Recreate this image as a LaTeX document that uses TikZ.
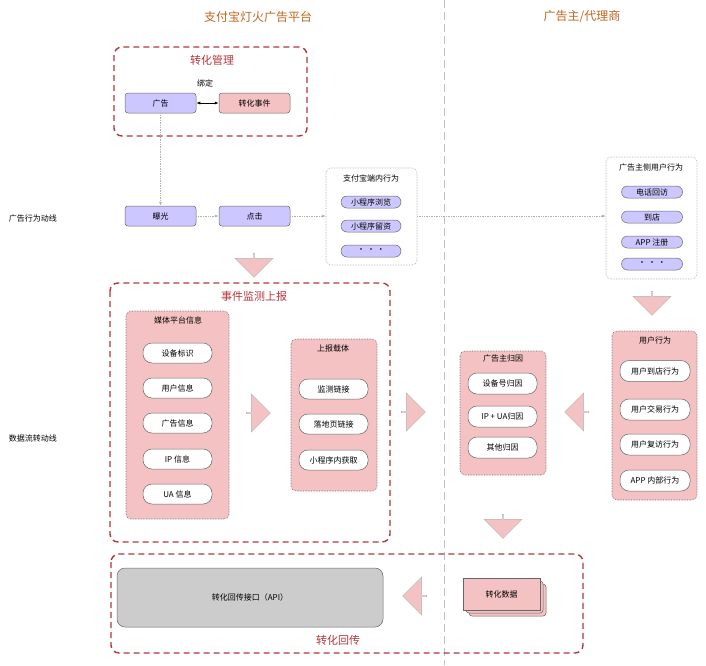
\documentclass[tikz,border=0pt]{standalone}
\usepackage{fontspec}
\setmainfont{Noto Sans CJK SC}
\usetikzlibrary{shapes.arrows,arrows.meta}
\definecolor{purp}{HTML}{CCC8FF}
\definecolor{pinkf}{HTML}{F4C2C2}
\definecolor{redd}{HTML}{B2353A}
\definecolor{orng}{HTML}{C0651E}
\tikzset{
 px/.style={x=1pt,y=-1pt},
 box/.style={draw=gray!80!black,rounded corners=3pt,font=\fontsize{8}{9}\selectfont,line width=0.5pt},
 pbox/.style={box,fill=purp},
 kbox/.style={box,fill=pinkf},
 wpill/.style={box,fill=white,rounded corners=9pt},
 ppill/.style={box,fill=purp,rounded corners=6pt},
 group/.style={draw=redd,dashed,line width=1.4pt,rounded corners=8pt,dash pattern=on 6pt off 4pt},
 sub/.style={draw=gray!70,densely dotted,rounded corners=5pt,line width=0.6pt},
 psub/.style={sub,fill=pinkf,draw=gray!80!black},
 gtitle/.style={text=redd,font=\fontsize{11}{12}\selectfont},
 stitle/.style={font=\fontsize{8}{9}\selectfont},
 dotarr/.style={draw=gray!60,densely dotted,line width=0.7pt,-{Latex[length=4pt]}},
 barrow/.style={single arrow,draw=gray!60,fill=pinkf,single arrow head extend=5pt,minimum height=24pt,minimum width=24pt,inner sep=0pt,single arrow tip angle=90},
}
\begin{document}
\begin{tikzpicture}[px]
\useasboundingbox (0,0) rectangle (706,665);
\draw[gray!50,dashed,line width=1pt,dash pattern=on 8pt off 4pt] (444,0) -- (444,665);
\node[text=orng,font=\fontsize{12}{13}\selectfont] (t1) at (258,17) {支付宝灯火广告平台};
\node[text=orng,font=\fontsize{12}{13}\selectfont] (t2) at (582,17) {广告主/代理商};
\node[stitle] (l1) at (33,218) {广告行为动线};
\node[stitle] (l2) at (33,438) {数据流转动线};
% 转化管理
\draw[group] (114,47) rectangle (307,136);
\node[gtitle] (g1) at (212,60) {转化管理};
\node[stitle] (bd) at (205,83) {绑定};
\node[pbox,minimum width=71pt,minimum height=20pt] (ad) at (160.5,103) {广告};
\node[kbox,minimum width=71pt,minimum height=20pt] (ev) at (254.5,103) {转化事件};
\draw[{Latex[length=4pt]}-{Latex[length=4pt]},line width=0.7pt] (ad) -- (ev);
% line 1
\node[pbox,minimum width=71pt,minimum height=20pt] (bg) at (160.5,216) {曝光};
\node[pbox,minimum width=71pt,minimum height=20pt] (dj) at (254.5,216) {点击};
\draw[sub] (326,168) rectangle (417,265);
\coordinate (zl) at (326,216);
\coordinate (zr) at (417,216);
\node[stitle] (zt) at (371,178) {支付宝端内行为};
\node[ppill,minimum width=60pt,minimum height=12pt,inner sep=0pt] (z1) at (371,202) {小程序浏览};
\node[ppill,minimum width=60pt,minimum height=12pt,inner sep=0pt] (z2) at (371,226) {小程序留资};
\node[ppill,minimum width=60pt,minimum height=12pt,inner sep=0pt] (z3) at (371,251) {• • •};
\draw[dotarr] (ad) -- (bg);
\draw[dotarr] (bg) -- (dj);
\draw[dotarr] (dj) -- (zl);
\draw[sub] (606,157) rectangle (697,279);
\coordinate (yl) at (606,216);
\draw[dotarr] (zr) -- (yl);
\node[stitle] (yt) at (651,167) {广告主侧用户行为};
\node[ppill,minimum width=61pt,minimum height=12pt,inner sep=0pt] (y1) at (652,192) {电话回访};
\node[ppill,minimum width=61pt,minimum height=12pt,inner sep=0pt] (y2) at (652,217) {到店};
\node[ppill,minimum width=61pt,minimum height=12pt,inner sep=0pt] (y3) at (652,242) {APP 注册};
\node[ppill,minimum width=61pt,minimum height=12pt,inner sep=0pt] (y4) at (652,264) {• • •};
% 事件监测上报
\node[barrow,shape border rotate=270,minimum width=38pt] (a1) at (254,265) {};
\draw[group] (110,283) rectangle (390,542);
\node[gtitle] (g2) at (254,296) {事件监测上报};
\draw[psub] (126,311) rectangle (229,519);
\node[stitle] (mt) at (178,320) {媒体平台信息};
\foreach \n/\y/\t in {m1/353/设备标识,m2/388/用户信息,m3/423/广告信息,m4/459/IP 信息,m5/494/UA 信息}
  \node[wpill,minimum width=69pt,minimum height=20pt] (\n) at (177.5,\y) {\t};
\node[barrow,minimum width=38pt] (a2) at (258,413) {};
\draw[psub] (291,339) rectangle (377,491);
\node[stitle] (st) at (333,348) {上报载体};
\foreach \n/\y/\t in {s1/389/监测链接,s2/424/落地页链接,s3/460/小程序内获取}
  \node[wpill,minimum width=69pt,minimum height=20pt] (\n) at (333.5,\y) {\t};
\node[barrow,minimum width=38pt] (a3) at (413,412) {};
% 广告主归因
\draw[psub] (460,351) rectangle (546,475);
\node[stitle] (gt) at (503,358) {广告主归因};
\foreach \n/\y/\t in {r1/383.5/设备号归因,r2/416.5/IP + UA归因,r3/447.5/其他归因}
  \node[wpill,minimum width=69pt,minimum height=21pt] (\n) at (502.5,\y) {\t};
\node[barrow,shape border rotate=180,minimum width=38pt] (a4) at (577,412) {};
% 用户行为
\node[barrow,shape border rotate=270,minimum width=38pt] (a5) at (652,303) {};
\draw[psub] (612,331) rectangle (697,500);
\node[stitle] (ut) at (655,340) {用户行为};
\foreach \n/\y/\t in {u1/371/用户到店行为,u2/409.5/用户交易行为,u3/444.5/用户复访行为,u4/480.5/APP 内部行为}
  \node[wpill,minimum width=70pt,minimum height=21pt] (\n) at (655,\y) {\t};
\node[barrow,shape border rotate=270,minimum width=38pt] (a6) at (503,526) {};
% 转化回传
\draw[group] (111,554) rectangle (583,653);
\node[gtitle] (g3) at (338,640) {转化回传};
\node[box,fill=gray!40,rounded corners=8pt,minimum width=266pt,minimum height=59pt] (api) at (250,597.5) {转化回传接口（API）};
\node[barrow,shape border rotate=180,minimum width=38pt] (a7) at (415,596) {};
\draw[kbox] (469,584) rectangle (546,616);
\draw[kbox] (466,581) rectangle (543,613);
\node[kbox,rounded corners=0pt,minimum width=77pt,minimum height=32pt] (zd) at (501.5,594) {转化数据};
\end{tikzpicture}
\end{document}
